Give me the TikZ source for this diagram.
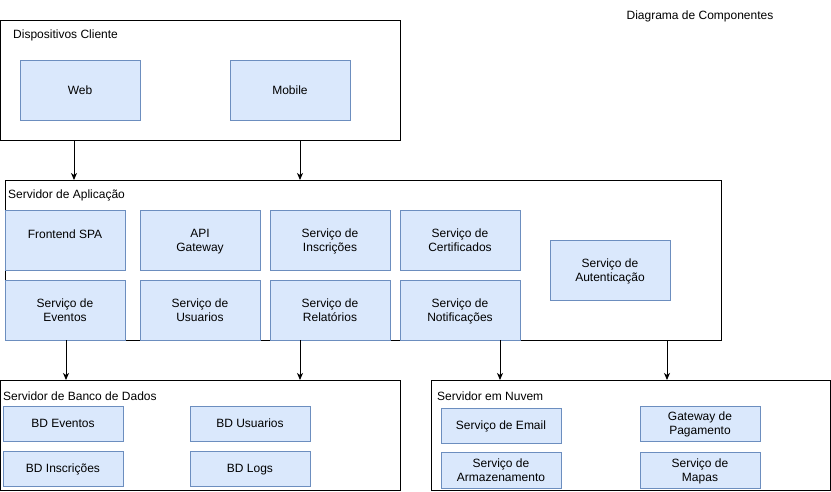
\documentclass[tikz,border=0pt]{standalone}
\usepackage{fontspec}
\setmainfont{Liberation Sans}
\usetikzlibrary{arrows.meta,positioning}
\definecolor{azul}{HTML}{DAE8FC}
\definecolor{borda}{HTML}{6C8EBF}
\tikzset{
  comp/.style={draw=borda, fill=azul, line width=1pt, minimum width=120pt, minimum height=60pt, align=center, inner sep=0pt, text depth=-3pt},
  comps/.style={comp, minimum height=35pt},
  caixa/.style={draw=black, line width=1pt, anchor=north west, inner sep=0pt},
  rot/.style={anchor=west, inner sep=0pt},
  fluxo/.style={line width=1pt, -{Stealth[length=7pt,width=6pt,inset=2pt]}}
}
\newcommand\txt{\fontsize{12}{14}\selectfont}

\begin{document}
\begin{tikzpicture}[x=1pt, y=-1pt, font=\txt]
    \useasboundingbox (0,0) rectangle (831,491);
    \node[anchor=center] (titulo) at (700,16.5) {Diagrama de Componentes};

    % dispositivos cliente
    \node[caixa, minimum width=400pt, minimum height=120pt] (disp) at (0,20) {};
    \node[rot] (disprot) at (13,35.5) {Dispositivos Cliente};
    \node[comp] (web) at (80,90) {Web};
    \node[comp] (mobile) at (290,90) {Mobile};

    % servidor de aplicacao
    \node[caixa, minimum width=716pt, minimum height=160pt] (app) at (5,180) {};
    \node[rot] (approt) at (8,195.5) {Servidor de Aplicação};
    \node[comp, text depth=11pt] (spa) at (65,240) {Frontend SPA};
    \node[comp] (api) [right=14pt of spa] {API\\Gateway};
    \node[comp] (insc) [right=9pt of api] {Serviço de\\Inscrições};
    \node[comp] (cert) [right=9pt of insc] {Serviço de\\Certificados};
    \node[comp] (even) at (65,310) {Serviço de\\Eventos};
    \node[comp] (usu) [right=14pt of even] {Serviço de\\Usuarios};
    \node[comp] (rel) [right=9pt of usu] {Serviço de\\Relatórios};
    \node[comp] (noti) [right=9pt of rel] {Serviço de\\Notificações};
    \node[comp] (aut) at (610,270) {Serviço de\\Autenticação};

    % servidor de banco de dados
    \node[caixa, minimum width=400pt, minimum height=110pt] (bd) at (0,380) {};
    \node[rot] (bdrot) at (3,396.5) {Servidor de Banco de Dados};
    \node[comps] (bdeven) at (63,423.5) {BD Eventos};
    \node[comps] (bdinsc) at (63,468.5) {BD Inscrições};
    \node[comps] (bdusu) at (250,423.5) {BD Usuarios};
    \node[comps] (bdlogs) at (250,468.5) {BD Logs};

    % servidor em nuvem
    \node[caixa, minimum width=399pt, minimum height=110pt] (nuvem) at (431,380) {};
    \node[rot] (nuvemrot) at (437,396.5) {Servidor em Nuvem};
    \node[comps] (email) at (501,425.5) {Serviço de Email};
    \node[comps, minimum height=36pt] (armaz) at (501,470) {Serviço de\\Armazenamento};
    \node[comps] (pag) at (700,423.5) {Gateway de\\Pagamento};
    \node[comps, minimum height=36pt] (mapas) at (700,470) {Serviço de\\Mapas};

    % conexoes
    \coordinate (c1) at (74,140);
    \coordinate (c2) at (300,140);
    \coordinate (c3) at (66,340);
    \coordinate (c4) at (300,340);
    \coordinate (c5) at (500,340);
    \coordinate (c6) at (667,340);
    \draw[fluxo] (c1) -- (c1 |- app.north);
    \draw[fluxo] (c2) -- (c2 |- app.north);
    \draw[fluxo] (c3) -- (c3 |- bd.north);
    \draw[fluxo] (c4) -- (c4 |- bd.north);
    \draw[fluxo] (c5) -- (c5 |- nuvem.north);
    \draw[fluxo] (c6) -- (c6 |- nuvem.north);
\end{tikzpicture}
\end{document}
